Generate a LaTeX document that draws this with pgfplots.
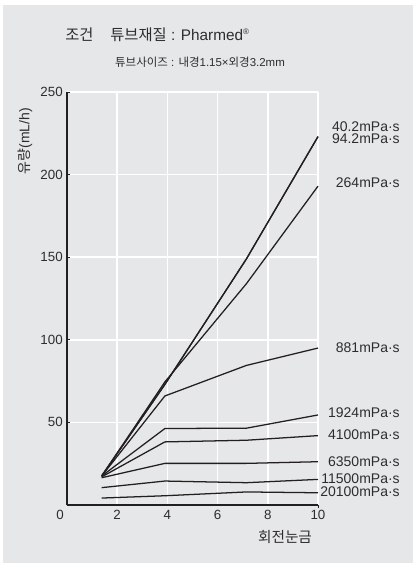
\documentclass[border=0pt]{standalone}
\usepackage{pgfplots}
\pgfplotsset{compat=1.18}
\usepackage{fontspec}
\setmainfont{Liberation Sans}
\newfontfamily\kr{Noto Sans CJK KR}
\definecolor{bggray}{RGB}{230,231,232}
\definecolor{ink}{RGB}{35,31,32}
\definecolor{txt}{RGB}{45,45,45}
\tikzset{vline/.style={draw=ink, line width=0.95pt, line join=round, mark=none}}
\begin{document}
\begin{tikzpicture}
\fill[white] (0,0) rectangle (312pt,423.75pt);
\fill[bggray] (2.25pt,1.5pt) rectangle (309.75pt,420pt);
\begin{axis}[
  at={(50.25pt,45pt)}, anchor=south west,
  width=188.25pt, height=309.75pt, scale only axis,
  xmin=0, xmax=10, ymin=0, ymax=250,
  axis x line*=bottom, axis y line*=left,
  axis line style={-, ink, line width=0.8pt},
  xtick={2,4,6,8,10}, ytick={50,100,150,200,250},
  grid=major, major grid style={white, line width=1.1pt},
  xtick style={draw=none},
  ytick style={ink, line width=0.6pt},
  tick align=inside, major tick length=2.4pt,
  extra x ticks={10}, extra x tick labels={},
  extra x tick style={grid=none, tick align=outside, xtick style={draw=ink, line width=0.6pt}},
  tick label style={font=\fontsize{10}{12}\selectfont, text=txt},
  yticklabel style={anchor=east, inner sep=0pt, xshift=-3pt},
  xticklabel style={anchor=north, inner sep=0pt, yshift=-3.5pt},
  /pgf/number format/assume math mode=true,
  clip=false,
]
% 40.2 mPa.s
\addplot[vline] coordinates {(1.38,17.5) (3.9,73) (7.15,149) (10,223)};
% 94.2 mPa.s
\addplot[vline] coordinates {(1.38,17.5) (3.9,73) (7.15,149) (10,223)};
% 264 mPa.s
\addplot[vline] coordinates {(1.38,17.5) (3.9,74.5) (7.15,134) (10,193)};
% 881 mPa.s
\addplot[vline] coordinates {(1.38,17.5) (3.9,66) (7.15,84.5) (10,95)};
% 1924 mPa.s
\addplot[vline] coordinates {(1.38,17.5) (3.9,46.3) (7.15,46.5) (10,54.5)};
% 4100 mPa.s
\addplot[vline] coordinates {(1.38,17) (3.9,38.2) (7.15,39.2) (10,42)};
% 6350 mPa.s
\addplot[vline] coordinates {(1.38,16.5) (3.9,25.2) (7.15,25.2) (10,26.2)};
% 11500 mPa.s
\addplot[vline] coordinates {(1.38,10.5) (3.9,14.5) (7.15,13.5) (10,15.5)};
% 20100 mPa.s
\addplot[vline] coordinates {(1.38,4.2) (3.9,5.6) (7.15,7.9) (10,7.4)};
\node[anchor=north, inner sep=0pt, text=txt, font=\fontsize{10}{12}\selectfont, xshift=-5.25pt, yshift=-3.5pt] at (axis cs:0,0) {0};
\end{axis}
\begin{scope}[every node/.style={anchor=east, inner sep=0pt, text=txt, font=\fontsize{10.5}{12}\selectfont}]
\node at (300pt,329pt) {40.2mPa·s};
\node at (300pt,320pt) {94.2mPa·s};
\node at (300pt,286.5pt) {264mPa·s};
\node at (300pt,162.75pt) {881mPa·s};
\node at (300pt,114pt) {1924mPa·s};
\node at (300pt,97.5pt) {4100mPa·s};
\node at (300pt,77.25pt) {6350mPa·s};
\node at (300pt,64.5pt) {11500mPa·s};
\node at (300pt,54.75pt) {20100mPa·s};
\end{scope}
\node[anchor=west, inner sep=0pt, text=txt, font=\fontsize{11.5}{13}\selectfont] at (48.75pt,397.5pt)
  {{\kr 조건}\hspace{1.1em}{\kr 튜브재질} : Pharmed\raisebox{4.5pt}{\fontsize{6}{6}\selectfont ®}};
\node[inner sep=0pt, text=txt, font=\fontsize{8.6}{10}\selectfont] at (150pt,377.25pt)
  {{\kr 튜브사이즈} : {\kr 내경}1.15×{\kr 외경}3.2mm};
\node[inner sep=0pt, text=txt, rotate=90, font=\fontsize{10.5}{12}\selectfont] at (18.75pt,318pt)
  {{\kr 유량}(mL/h)};
\node[inner sep=0pt, text=txt, font=\fontsize{11}{12}\selectfont] at (213.75pt,21pt)
  {\kr 회전눈금};
\pgfresetboundingbox
\path (0,0) rectangle (312pt,423.75pt);
\end{tikzpicture}
\end{document}
